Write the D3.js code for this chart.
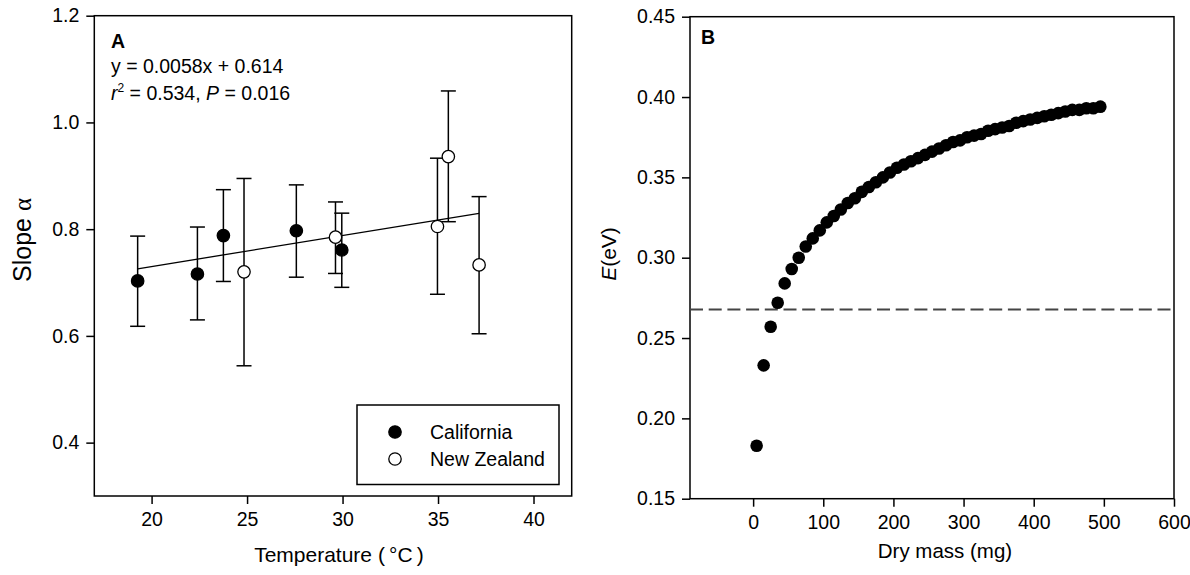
<!DOCTYPE html>
<html>
<head>
<meta charset="utf-8">
<script src="https://cdn.jsdelivr.net/npm/d3@7"></script>
<style>
  body { margin: 0; background: #fff; }
  text { font-family: "Liberation Sans", Arial, sans-serif; fill: #000; }
  .axis text { font-size: 19.5px; }
  .axis line { stroke: #000; stroke-width: 1.5px; }
</style>
</head>
<body>
<script>
// Panel A: slope vs temperature
const caliTemp = [19.27, 22.40, 23.76, 27.58, 29.96];
const caliSlope = [0.703, 0.716, 0.788, 0.797, 0.761];
const caliLow = [0.618, 0.630, 0.702, 0.710, 0.691];
const caliHigh = [0.787, 0.804, 0.874, 0.883, 0.830];

const nzTemp = [24.84, 29.63, 34.97, 35.54, 37.15];
const nzSlope = [0.720, 0.785, 0.805, 0.936, 0.733];
const nzLow = [0.544, 0.717, 0.678, 0.814, 0.604];
const nzHigh = [0.895, 0.851, 0.933, 1.059, 0.861];

const fitSlope = 0.0058;
const fitIntercept = 0.614;
const fitRange = [19.27, 37.15];

const tempTicks = [20, 25, 30, 35, 40];
const slopeTicks = [0.4, 0.6, 0.8, 1.0, 1.2];

// Panel B: E vs dry mass
const dryMass = [5, 15, 25, 35, 45, 55, 65, 75, 85, 95,
  105, 115, 125, 135, 145, 155, 165, 175, 185, 195,
  205, 215, 225, 235, 245, 255, 265, 275, 285, 295,
  305, 315, 325, 335, 345, 355, 365, 375, 385, 395,
  405, 415, 425, 435, 445, 455, 465, 475, 485, 495];
const energy = [0.183, 0.233, 0.257, 0.272, 0.284, 0.293, 0.300, 0.307, 0.312, 0.317,
  0.322, 0.326, 0.330, 0.334, 0.337, 0.341, 0.344, 0.347, 0.350, 0.353,
  0.356, 0.358, 0.360, 0.362, 0.364, 0.366, 0.368, 0.370, 0.372, 0.373,
  0.375, 0.376, 0.377, 0.379, 0.380, 0.381, 0.382, 0.384, 0.385, 0.386,
  0.387, 0.388, 0.389, 0.390, 0.391, 0.392, 0.392, 0.393, 0.393, 0.394];
const refEnergy = 0.2677;

const massTicks = [0, 100, 200, 300, 400, 500, 600];
const energyTicks = [0.15, 0.20, 0.25, 0.30, 0.35, 0.40, 0.45];

const svg = d3.select("body")
  .append("svg")
  .attr("width", 1190)
  .attr("height", 575);

svg.append("rect").attr("width", 1190).attr("height", 575).attr("fill", "#fff");

// ---------- Panel A ----------
const boxA = { left: 94.3, right: 571.7, top: 15.7, bottom: 496 };

const xA = d3.scaleLinear().domain([17, 42]).range([boxA.left, boxA.right]);
const yA = d3.scaleLinear().domain([0.3, 1.2]).range([boxA.bottom, boxA.top]);

const gA = svg.append("g");

// x axis
gA.append("g")
  .attr("class", "axis")
  .attr("transform", "translate(0," + boxA.bottom + ")")
  .call(d3.axisBottom(xA).tickValues(tempTicks).tickSize(8).tickSizeOuter(0).tickPadding(8))
  .call(g => g.select(".domain").remove())
  .selectAll("text").attr("font-family", null).attr("font-size", null);

// y axis
gA.append("g")
  .attr("class", "axis")
  .attr("transform", "translate(" + boxA.left + ",0)")
  .call(d3.axisLeft(yA).tickValues(slopeTicks).tickFormat(d3.format(".1f")).tickSize(8).tickSizeOuter(0).tickPadding(7))
  .call(g => g.select(".domain").remove())
  .selectAll("text").attr("font-family", null).attr("font-size", null);

// frame
gA.append("rect")
  .attr("x", boxA.left)
  .attr("y", boxA.top)
  .attr("width", boxA.right - boxA.left)
  .attr("height", boxA.bottom - boxA.top)
  .attr("fill", "none")
  .attr("stroke", "#000")
  .attr("stroke-width", 1.5);

// regression line
gA.append("line")
  .attr("x1", xA(fitRange[0]))
  .attr("y1", yA(fitSlope * fitRange[0] + fitIntercept))
  .attr("x2", xA(fitRange[1]))
  .attr("y2", yA(fitSlope * fitRange[1] + fitIntercept))
  .attr("stroke", "#000")
  .attr("stroke-width", 1.3);

// error bars + points
function drawSeries(temps, vals, lows, highs, fill) {
  const cap = 7.5;
  const bars = gA.append("g");
  temps.forEach((t, i) => {
    const x = xA(t);
    bars.append("line")
      .attr("x1", x).attr("x2", x)
      .attr("y1", yA(lows[i])).attr("y2", yA(highs[i]))
      .attr("stroke", "#000").attr("stroke-width", 1.5);
    [lows[i], highs[i]].forEach(v => {
      bars.append("line")
        .attr("x1", x - cap).attr("x2", x + cap)
        .attr("y1", yA(v)).attr("y2", yA(v))
        .attr("stroke", "#000").attr("stroke-width", 1.5);
    });
  });
  gA.selectAll(null)
    .data(temps)
    .enter()
    .append("circle")
    .attr("cx", d => xA(d))
    .attr("cy", (d, i) => yA(vals[i]))
    .attr("r", 6.2)
    .attr("fill", fill)
    .attr("stroke", "#000")
    .attr("stroke-width", 1.3);
}

drawSeries(caliTemp, caliSlope, caliLow, caliHigh, "#000");
drawSeries(nzTemp, nzSlope, nzLow, nzHigh, "#fff");

// annotations
gA.append("text")
  .attr("x", 111).attr("y", 47.5)
  .attr("font-size", 19.5).attr("font-weight", "bold")
  .text("A");

gA.append("text")
  .attr("x", 111).attr("y", 72.5)
  .attr("font-size", 19.5)
  .text("y = 0.0058x + 0.614");

const r2 = gA.append("text")
  .attr("x", 111).attr("y", 100)
  .attr("font-size", 19.5);
r2.append("tspan").attr("font-style", "italic").text("r");
r2.append("tspan").attr("dy", -8).attr("font-size", 12).text("2");
r2.append("tspan").attr("dy", 8).text(" = 0.534, ");
r2.append("tspan").attr("font-style", "italic").text("P");
r2.append("tspan").text(" = 0.016");

// legend
const legend = gA.append("g");
legend.append("rect")
  .attr("x", 357).attr("y", 405)
  .attr("width", 202).attr("height", 79.5)
  .attr("fill", "#fff")
  .attr("stroke", "#000")
  .attr("stroke-width", 1.5);
const legendItems = [
  { label: "California", fill: "#000" },
  { label: "New Zealand", fill: "#fff" }
];
legendItems.forEach((d, i) => {
  const y = 432 + i * 27;
  legend.append("circle")
    .attr("cx", 395).attr("cy", y).attr("r", 6.2)
    .attr("fill", d.fill).attr("stroke", "#000").attr("stroke-width", 1.3);
  legend.append("text")
    .attr("x", 430).attr("y", y + 7)
    .attr("font-size", 19.5)
    .text(d.label);
});

// axis titles
gA.append("text")
  .attr("x", 339).attr("y", 562)
  .attr("text-anchor", "middle")
  .attr("font-size", 21)
  .text("Temperature (\u2009\u00B0C\u2009)");

const slopeTitle = gA.append("text")
  .attr("transform", "translate(31,240) rotate(-90)")
  .attr("text-anchor", "middle")
  .attr("font-size", 25);
slopeTitle.append("tspan").text("Slope ");
slopeTitle.append("tspan").attr("font-family", "'Liberation Serif', serif").text("\u03B1");

// ---------- Panel B ----------
const boxB = { left: 690, right: 1174, top: 16.7, bottom: 498.7 };

const xB = d3.scaleLinear().domain([-90, 600]).range([boxB.left, boxB.right]);
const yB = d3.scaleLinear().domain([0.15, 0.45]).range([boxB.bottom, boxB.top]);

const gB = svg.append("g");

gB.append("g")
  .attr("class", "axis")
  .attr("transform", "translate(0," + boxB.bottom + ")")
  .call(d3.axisBottom(xB).tickValues(massTicks).tickSize(8).tickSizeOuter(0).tickPadding(8))
  .call(g => g.select(".domain").remove())
  .selectAll("text").attr("font-family", null).attr("font-size", null);

gB.append("g")
  .attr("class", "axis")
  .attr("transform", "translate(" + boxB.left + ",0)")
  .call(d3.axisLeft(yB).tickValues(energyTicks).tickFormat(d3.format(".2f")).tickSize(8).tickSizeOuter(0).tickPadding(7))
  .call(g => g.select(".domain").remove())
  .selectAll("text").attr("font-family", null).attr("font-size", null);

gB.append("rect")
  .attr("x", boxB.left)
  .attr("y", boxB.top)
  .attr("width", boxB.right - boxB.left)
  .attr("height", boxB.bottom - boxB.top)
  .attr("fill", "none")
  .attr("stroke", "#000")
  .attr("stroke-width", 1.5);

// reference dashed line
gB.append("line")
  .attr("x1", boxB.left).attr("x2", boxB.right)
  .attr("y1", yB(refEnergy)).attr("y2", yB(refEnergy))
  .attr("stroke", "#444")
  .attr("stroke-width", 2)
  .attr("stroke-dasharray", "13,5.7");

gB.selectAll("circle")
  .data(dryMass)
  .enter()
  .append("circle")
  .attr("cx", d => xB(d))
  .attr("cy", (d, i) => yB(energy[i]))
  .attr("r", 6.3)
  .attr("fill", "#000");

gB.append("text")
  .attr("x", 701).attr("y", 43.5)
  .attr("font-size", 19.5).attr("font-weight", "bold")
  .text("B");

gB.append("text")
  .attr("x", 945).attr("y", 558)
  .attr("text-anchor", "middle")
  .attr("font-size", 20.5)
  .text("Dry mass (mg)");

const eTitle = gB.append("text")
  .attr("transform", "translate(616,254) rotate(-90)")
  .attr("text-anchor", "middle")
  .attr("font-size", 21);
eTitle.append("tspan").attr("font-style", "italic").text("E");
eTitle.append("tspan").text("(eV)");
</script>
</body>
</html>
